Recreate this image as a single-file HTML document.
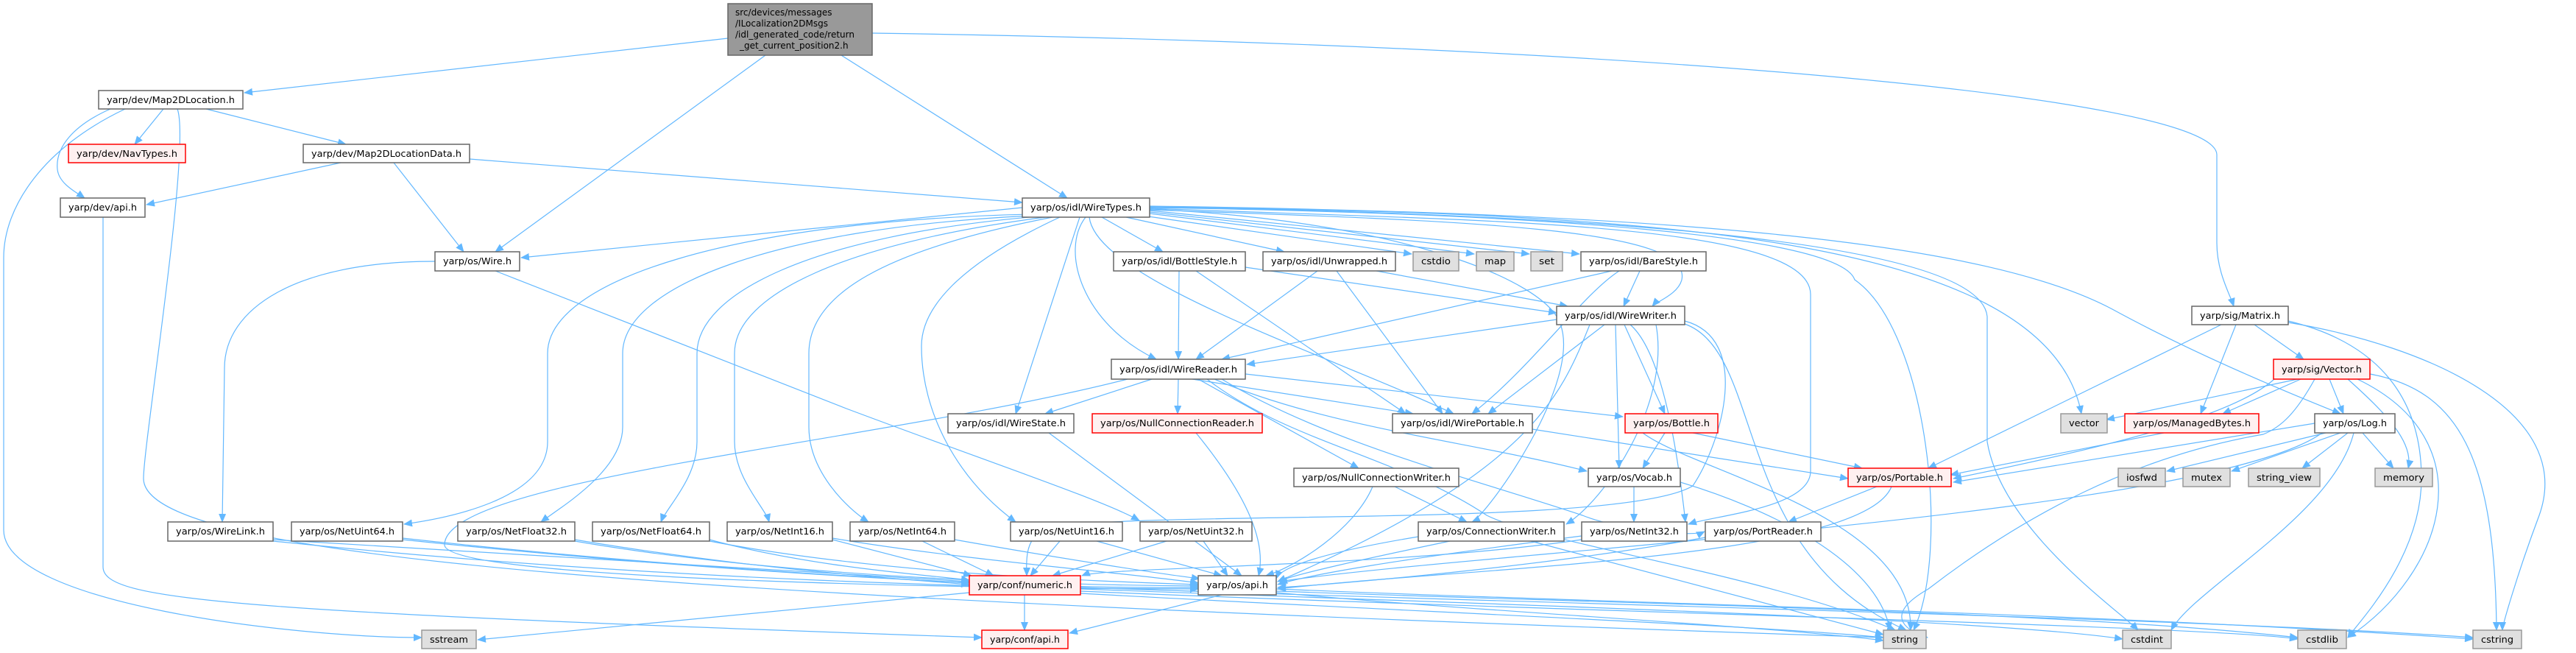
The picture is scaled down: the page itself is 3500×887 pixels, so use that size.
<!DOCTYPE html>
<html><head><meta charset="utf-8"><style>
html,body{margin:0;padding:0;background:#fff;}
svg{display:block;}
text{font-family:"DejaVu Sans","Liberation Sans",sans-serif;font-size:12px;fill:#000;}
.e{fill:none;stroke:#63b8ff;stroke-width:1.2;marker-end:url(#a);}
.n{fill:#fff;stroke:#666;stroke-width:1.5;}
.g{fill:#e0e0e0;stroke:#999;stroke-width:1.5;}
.r{fill:#fff0f0;stroke:#f00;stroke-width:1.5;}
</style></head><body>
<svg width="3500" height="887" viewBox="0 0 3500 887" xmlns="http://www.w3.org/2000/svg">
<defs><marker id="a" markerUnits="userSpaceOnUse" markerWidth="12" markerHeight="10" refX="11" refY="5" orient="auto"><path d="M0,0 L12,5 L0,10 z" fill="#63b8ff"/></marker></defs>
<g>
<!-- root -->
<path class="e" d="M989,52 L332,126"/>
<path class="e" d="M1040,75 L673,342"/>
<path class="e" d="M1143,75 L1450,269"/>
<path class="e" d="M1185,45 C2200,60 3010,130 3012,210 L3012,330 C3012,370 3030,400 3035,416"/>
<!-- Map2DLocation -->
<path class="e" d="M222,148 L183,196"/>
<path class="e" d="M280,148 L470,196"/>
<path class="e" d="M150,148 C100,170 75,200 78,230 C80,250 105,262 115,269"/>
<path class="e" d="M170,148 C60,200 5,280 5,350 L5,720 C5,820 400,866 573,866"/>
<path class="e" d="M241,148 C260,200 195,600 195,650 C195,760 900,810 2559,866"/>
<!-- Map2DLocationData -->
<path class="e" d="M463,221 L199,278"/>
<path class="e" d="M535,221 L630,342"/>
<path class="e" d="M638,216 L1389,275"/>
<!-- dev/api -->
<path class="e" d="M140,295 L140,770 C140,815 300,830 1334,866"/>
<!-- Wire -->
<path class="e" d="M591,355 C400,355 305,420 305,500 L302,709"/>
<path class="e" d="M673,368 L1150,555 C1350,630 1500,680 1548,707"/>
<!-- WireTypes -->
<path class="e" d="M1389,282 L708,350"/>
<path class="e" d="M1497,295 L1580,342"/>
<path class="e" d="M1530,295 L1745,342"/>
<path class="e" d="M1560,294 L1918,345"/>
<path class="e" d="M1562,290 L2003,345"/>
<path class="e" d="M1562,288 L2078,345"/>
<path class="e" d="M1562,286 L2146,345"/>
<path class="e" d="M1562,285 C2000,300 2300,310 2285,380 C2280,400 2250,410 2245,416"/>
<path class="e" d="M1475,295 C1440,340 1470,440 1571,488"/>
<path class="e" d="M1467,295 L1380,562"/>
<path class="e" d="M1480,295 C1490,380 1800,480 1975,562"/>
<path class="e" d="M1400,291 C1000,300 744,380 744,480 L744,600 C744,680 600,705 549,712"/>
<path class="e" d="M1400,293 C1050,310 846,390 846,480 L846,580 C846,640 760,690 735,709"/>
<path class="e" d="M1410,294 C1100,320 947,400 947,480 L947,600 C947,650 905,690 898,709"/>
<path class="e" d="M1420,295 C1150,330 998,400 998,480 L998,600 C998,650 1040,690 1045,709"/>
<path class="e" d="M1430,295 C1200,340 1099,400 1099,480 L1099,580 C1099,640 1150,690 1180,709"/>
<path class="e" d="M1440,295 C1300,360 1252,420 1252,470 C1252,560 1300,650 1380,709"/>
<path class="e" d="M1562,283 C2000,300 2460,300 2460,400 L2460,640 C2460,690 2330,700 2294,712"/>
<path class="e" d="M1562,282 C2100,290 2500,320 2520,380 C2620,450 2650,750 2600,856"/>
<path class="e" d="M1562,281 C2100,290 2690,320 2700,430 L2700,600 C2720,720 2880,830 2905,856"/>
<path class="e" d="M1562,281 C2200,290 2780,310 2828,562"/>
<path class="e" d="M1562,280 C2300,290 2700,330 2870,420 C2980,480 3100,530 3180,562"/>
<path class="e" d="M1562,284 C1900,300 2100,380 2120,440 C2150,520 2020,700 2000,709"/>
<!-- BottleStyle / Unwrapped / BareStyle -->
<path class="e" d="M1602,368 L1601,488"/>
<path class="e" d="M1625,368 L1910,562"/>
<path class="e" d="M1692,363 L2115,425"/>
<path class="e" d="M1790,368 L1625,488"/>
<path class="e" d="M1816,368 L1960,562"/>
<path class="e" d="M1870,368 L2130,416"/>
<path class="e" d="M2190,368 L1660,488"/>
<path class="e" d="M2200,368 C2150,400 2080,500 2000,562"/>
<path class="e" d="M2228,368 L2206,416"/>
<!-- WireWriter -->
<path class="e" d="M2115,434 L1694,495"/>
<path class="e" d="M2180,441 L2022,562"/>
<path class="e" d="M2195,441 L2200,636"/>
<path class="e" d="M2207,441 L2262,562"/>
<path class="e" d="M2215,441 C2260,480 2280,620 2290,709 " />
<path class="e" d="M2289,436 C2380,460 2340,600 2300,660 C2200,720 1500,690 1420,720 C1390,730 1395,770 1395,782"/>
<path class="e" d="M2160,441 C2120,540 2080,640 1736,790"/>
<path class="e" d="M2289,440 C2400,480 2350,750 2590,856"/>
<path class="e" d="M2250,441 C2270,550 2180,680 2128,712"/>
<!-- WireReader -->
<path class="e" d="M1565,515 L1420,562"/>
<path class="e" d="M1601,515 L1600,562"/>
<path class="e" d="M1620,515 L1920,562"/>
<path class="e" d="M1692,508 L2205,566"/>
<path class="e" d="M1628,515 L1846,636"/>
<path class="e" d="M1650,515 C1800,580 2000,600 2156,640"/>
<path class="e" d="M1532,515 C1200,600 604,650 604,740 C604,790 1400,800 1628,800"/>
<path class="e" d="M1640,515 C1750,600 1900,620 2020,700 C2100,740 2400,780 2575,856"/>
<path class="e" d="M1660,515 C1800,600 2000,650 2150,700 C2200,720 2300,730 2316,722"/>
<!-- row 5/6 -->
<path class="e" d="M1425,588 L1687,782"/>
<path class="e" d="M1625,588 C1700,680 1720,740 1710,782"/>
<path class="e" d="M1865,661 C1840,720 1760,770 1720,782"/>
<path class="e" d="M1895,661 L1993,709"/>
<path class="e" d="M2082,583 L2511,650"/>
<path class="e" d="M2262,588 L2232,636"/>
<path class="e" d="M2300,588 L2530,636"/>
<path class="e" d="M2232,588 C2300,640 2600,700 2596,856"/>
<path class="e" d="M2220,661 L2220,709"/>
<path class="e" d="M2283,655 C2400,690 2550,760 2568,856"/>
<path class="e" d="M2550,661 L2430,709"/>
<path class="e" d="M2570,661 C2530,760 2000,770 1736,800"/>
<!-- Matrix / Vector -->
<path class="e" d="M3018,441 L2620,636"/>
<path class="e" d="M3038,441 L2990,562"/>
<path class="e" d="M3063,441 L3130,488"/>
<path class="e" d="M3109,436 C3250,470 3290,560 3290,650 C3290,760 3200,850 3190,866"/>
<path class="e" d="M3109,438 C3300,470 3500,560 3450,700 C3420,780 3400,850 3400,856"/>
<path class="e" d="M3122,515 L2862,570"/>
<path class="e" d="M3126,515 L3020,562"/>
<path class="e" d="M3165,515 L3184,562"/>
<path class="e" d="M3190,515 C3240,560 3280,600 3272,636"/>
<path class="e" d="M3220,508 C3340,530 3390,620 3392,856"/>
<path class="e" d="M3203,515 C3380,600 3320,780 3190,866"/>
<path class="e" d="M3145,515 C3120,560 3100,580 3075,590 C2900,620 2750,700 2620,800 C2550,840 2600,860 2619,866"/>
<path class="e" d="M3090,515 C3040,560 2900,600 2654,650"/>
<path class="e" d="M2940,588 L2650,645"/>
<!-- Log -->
<path class="e" d="M3145,575 L2654,655"/>
<path class="e" d="M3160,588 L2944,640"/>
<path class="e" d="M3180,588 L3032,640"/>
<path class="e" d="M3190,588 L3128,636"/>
<path class="e" d="M3210,588 L3252,636"/>
<path class="e" d="M3198,588 C3170,700 2980,800 2950,856"/>
<path class="e" d="M3155,588 C3000,700 2000,750 1738,790"/>
<!-- row 7 -> numeric / osapi -->
<path class="e" d="M371,733 C800,760 1200,780 1317,790"/>
<path class="e" d="M371,735 C900,790 1400,800 1628,800"/>
<path class="e" d="M547,731 C900,770 1200,785 1317,792"/>
<path class="e" d="M547,733 C1000,780 1400,800 1628,798"/>
<path class="e" d="M781,733 C1000,770 1200,785 1317,794"/>
<path class="e" d="M781,735 C1100,790 1500,795 1628,796"/>
<path class="e" d="M964,733 C1100,770 1250,780 1317,788"/>
<path class="e" d="M964,735 C1200,780 1500,790 1628,794"/>
<path class="e" d="M1131,733 L1320,782"/>
<path class="e" d="M1131,731 C1300,760 1550,780 1628,792"/>
<path class="e" d="M1253,735 L1350,782"/>
<path class="e" d="M1297,733 C1450,760 1580,780 1630,786"/>
<path class="e" d="M1440,735 L1400,782"/>
<path class="e" d="M1490,735 L1660,782"/>
<path class="e" d="M1585,735 L1430,782"/>
<path class="e" d="M1635,735 L1668,782"/>
<path class="e" d="M1927,729 C1800,750 1740,770 1734,786"/>
<path class="e" d="M1970,735 C1850,760 1760,780 1736,790"/>
<path class="e" d="M2080,735 L2559,862"/>
<path class="e" d="M2149,728 C1900,760 1780,780 1736,794"/>
<path class="e" d="M2149,733 C1900,770 1500,770 1470,782"/>
<path class="e" d="M2317,730 C2100,770 1800,795 1736,798"/>
<!-- numeric / osapi bottom -->
<path class="e" d="M1392,808 L1392,856"/>
<path class="e" d="M1317,805 L649,869"/>
<path class="e" d="M1468,800 C2000,820 2700,840 2884,868"/>
<path class="e" d="M1468,803 C2100,830 3000,850 3122,868"/>
<path class="e" d="M1468,798 C2100,820 3000,840 3360,866"/>
<path class="e" d="M1468,806 C1900,830 2400,850 2559,866"/>
<path class="e" d="M1660,808 L1453,860"/>
<path class="e" d="M1734,805 C2000,830 2400,850 2559,870"/>
<path class="e" d="M1734,800 C2200,820 2800,830 3360,868"/>
<path class="e" d="M1734,803 C2200,820 2800,830 3122,866"/>
</g>
<!-- nodes -->
<g>
<rect class="n" x="989" y="5" width="196" height="70" style="fill:#999;stroke:#666"/>
<text x="999" y="21">src/devices/messages</text>
<text x="999" y="36">/ILocalization2DMsgs</text>
<text x="999" y="51">/idl_generated_code/return</text>
<text x="1005" y="66">_get_current_position2.h</text>

<rect class="n" x="134" y="123" width="196" height="25"/><text x="145" y="140" textLength="174" lengthAdjust="spacingAndGlyphs">yarp/dev/Map2DLocation.h</text>
<rect class="r" x="93" y="196" width="159" height="25"/><text x="104" y="213" textLength="137" lengthAdjust="spacingAndGlyphs" style="fill:#000">yarp/dev/NavTypes.h</text>
<rect class="n" x="412" y="196" width="226" height="25"/><text x="423" y="213" textLength="204" lengthAdjust="spacingAndGlyphs">yarp/dev/Map2DLocationData.h</text>
<rect class="n" x="82" y="269" width="115" height="26"/><text x="93" y="286" textLength="93" lengthAdjust="spacingAndGlyphs">yarp/dev/api.h</text>
<rect class="n" x="591" y="342" width="115" height="26"/><text x="602" y="359" textLength="93" lengthAdjust="spacingAndGlyphs">yarp/os/Wire.h</text>
<rect class="n" x="1389" y="269" width="173" height="26"/><text x="1400" y="286" textLength="151" lengthAdjust="spacingAndGlyphs">yarp/os/idl/WireTypes.h</text>
<rect class="n" x="1513" y="342" width="179" height="26"/><text x="1524" y="359" textLength="157" lengthAdjust="spacingAndGlyphs">yarp/os/idl/BottleStyle.h</text>
<rect class="n" x="1716" y="342" width="180" height="26"/><text x="1727" y="359" textLength="158" lengthAdjust="spacingAndGlyphs">yarp/os/idl/Unwrapped.h</text>
<rect class="g" x="1920" y="342" width="62" height="26"/><text x="1931" y="359" textLength="40" lengthAdjust="spacingAndGlyphs">cstdio</text>
<rect class="g" x="2006" y="342" width="51" height="26"/><text x="2017" y="359" textLength="29" lengthAdjust="spacingAndGlyphs">map</text>
<rect class="g" x="2080" y="342" width="43" height="26"/><text x="2091" y="359" textLength="21" lengthAdjust="spacingAndGlyphs">set</text>
<rect class="n" x="2148" y="342" width="170" height="26"/><text x="2159" y="359" textLength="148" lengthAdjust="spacingAndGlyphs">yarp/os/idl/BareStyle.h</text>
<rect class="n" x="2115" y="416" width="174" height="25"/><text x="2126" y="433" textLength="152" lengthAdjust="spacingAndGlyphs">yarp/os/idl/WireWriter.h</text>
<rect class="n" x="2978" y="416" width="131" height="25"/><text x="2989" y="433" textLength="109" lengthAdjust="spacingAndGlyphs">yarp/sig/Matrix.h</text>
<rect class="n" x="1510" y="488" width="182" height="27"/><text x="1521" y="506" textLength="160" lengthAdjust="spacingAndGlyphs">yarp/os/idl/WireReader.h</text>
<rect class="r" x="3089" y="488" width="131" height="27"/><text x="3100" y="506" textLength="109" lengthAdjust="spacingAndGlyphs">yarp/sig/Vector.h</text>
<rect class="n" x="1288" y="562" width="171" height="26"/><text x="1299" y="579" textLength="149" lengthAdjust="spacingAndGlyphs">yarp/os/idl/WireState.h</text>
<rect class="r" x="1484" y="562" width="231" height="26"/><text x="1495" y="579" textLength="209" lengthAdjust="spacingAndGlyphs">yarp/os/NullConnectionReader.h</text>
<rect class="n" x="1892" y="562" width="190" height="26"/><text x="1903" y="579" textLength="168" lengthAdjust="spacingAndGlyphs">yarp/os/idl/WirePortable.h</text>
<rect class="r" x="2208" y="562" width="126" height="26"/><text x="2219" y="579" textLength="104" lengthAdjust="spacingAndGlyphs">yarp/os/Bottle.h</text>
<rect class="g" x="2800" y="562" width="63" height="26"/><text x="2811" y="579" textLength="41" lengthAdjust="spacingAndGlyphs">vector</text>
<rect class="r" x="2887" y="562" width="182" height="26"/><text x="2898" y="579" textLength="160" lengthAdjust="spacingAndGlyphs">yarp/os/ManagedBytes.h</text>
<rect class="n" x="3145" y="562" width="109" height="26"/><text x="3156" y="579" textLength="87" lengthAdjust="spacingAndGlyphs">yarp/os/Log.h</text>
<rect class="n" x="1758" y="636" width="224" height="25"/><text x="1769" y="653" textLength="202" lengthAdjust="spacingAndGlyphs">yarp/os/NullConnectionWriter.h</text>
<rect class="n" x="2158" y="636" width="125" height="25"/><text x="2169" y="653" textLength="103" lengthAdjust="spacingAndGlyphs">yarp/os/Vocab.h</text>
<rect class="r" x="2511" y="636" width="140" height="25"/><text x="2522" y="653" textLength="118" lengthAdjust="spacingAndGlyphs">yarp/os/Portable.h</text>
<rect class="g" x="2878" y="636" width="64" height="25"/><text x="2889" y="653" textLength="42" lengthAdjust="spacingAndGlyphs">iosfwd</text>
<rect class="g" x="2966" y="636" width="64" height="25"/><text x="2977" y="653" textLength="42" lengthAdjust="spacingAndGlyphs">mutex</text>
<rect class="g" x="3055" y="636" width="97" height="25"/><text x="3066" y="653" textLength="75" lengthAdjust="spacingAndGlyphs">string_view</text>
<rect class="g" x="3227" y="636" width="78" height="25"/><text x="3238" y="653" textLength="56" lengthAdjust="spacingAndGlyphs">memory</text>
<rect class="n" x="228" y="709" width="143" height="26"/><text x="239" y="726" textLength="121" lengthAdjust="spacingAndGlyphs">yarp/os/WireLink.h</text>
<rect class="n" x="396" y="709" width="151" height="26"/><text x="407" y="726" textLength="129" lengthAdjust="spacingAndGlyphs">yarp/os/NetUint64.h</text>
<rect class="n" x="622" y="709" width="159" height="26"/><text x="633" y="726" textLength="137" lengthAdjust="spacingAndGlyphs">yarp/os/NetFloat32.h</text>
<rect class="n" x="805" y="709" width="159" height="26"/><text x="816" y="726" textLength="137" lengthAdjust="spacingAndGlyphs">yarp/os/NetFloat64.h</text>
<rect class="n" x="988" y="709" width="143" height="26"/><text x="999" y="726" textLength="121" lengthAdjust="spacingAndGlyphs">yarp/os/NetInt16.h</text>
<rect class="n" x="1155" y="709" width="142" height="26"/><text x="1166" y="726" textLength="120" lengthAdjust="spacingAndGlyphs">yarp/os/NetInt64.h</text>
<rect class="n" x="1373" y="709" width="152" height="26"/><text x="1384" y="726" textLength="130" lengthAdjust="spacingAndGlyphs">yarp/os/NetUint16.h</text>
<rect class="n" x="1549" y="709" width="152" height="26"/><text x="1560" y="726" textLength="130" lengthAdjust="spacingAndGlyphs">yarp/os/NetUint32.h</text>
<rect class="n" x="1927" y="709" width="198" height="26"/><text x="1938" y="726" textLength="176" lengthAdjust="spacingAndGlyphs">yarp/os/ConnectionWriter.h</text>
<rect class="n" x="2149" y="709" width="143" height="26"/><text x="2160" y="726" textLength="121" lengthAdjust="spacingAndGlyphs">yarp/os/NetInt32.h</text>
<rect class="n" x="2317" y="709" width="157" height="26"/><text x="2328" y="726" textLength="135" lengthAdjust="spacingAndGlyphs">yarp/os/PortReader.h</text>
<rect class="r" x="1317" y="782" width="151" height="26"/><text x="1328" y="799" textLength="129" lengthAdjust="spacingAndGlyphs">yarp/conf/numeric.h</text>
<rect class="n" x="1628" y="782" width="106" height="26"/><text x="1639" y="799" textLength="84" lengthAdjust="spacingAndGlyphs">yarp/os/api.h</text>
<rect class="g" x="573" y="856" width="74" height="25"/><text x="584" y="873" textLength="52" lengthAdjust="spacingAndGlyphs">sstream</text>
<rect class="r" x="1334" y="856" width="117" height="25"/><text x="1345" y="873" textLength="95" lengthAdjust="spacingAndGlyphs">yarp/conf/api.h</text>
<rect class="g" x="2559" y="856" width="58" height="25"/><text x="2570" y="873" textLength="36" lengthAdjust="spacingAndGlyphs">string</text>
<rect class="g" x="2884" y="856" width="66" height="25"/><text x="2895" y="873" textLength="44" lengthAdjust="spacingAndGlyphs">cstdint</text>
<rect class="g" x="3122" y="856" width="66" height="25"/><text x="3133" y="873" textLength="44" lengthAdjust="spacingAndGlyphs">cstdlib</text>
<rect class="g" x="3360" y="856" width="66" height="25"/><text x="3371" y="873" textLength="44" lengthAdjust="spacingAndGlyphs">cstring</text>
</g>
</svg>
</body></html>
